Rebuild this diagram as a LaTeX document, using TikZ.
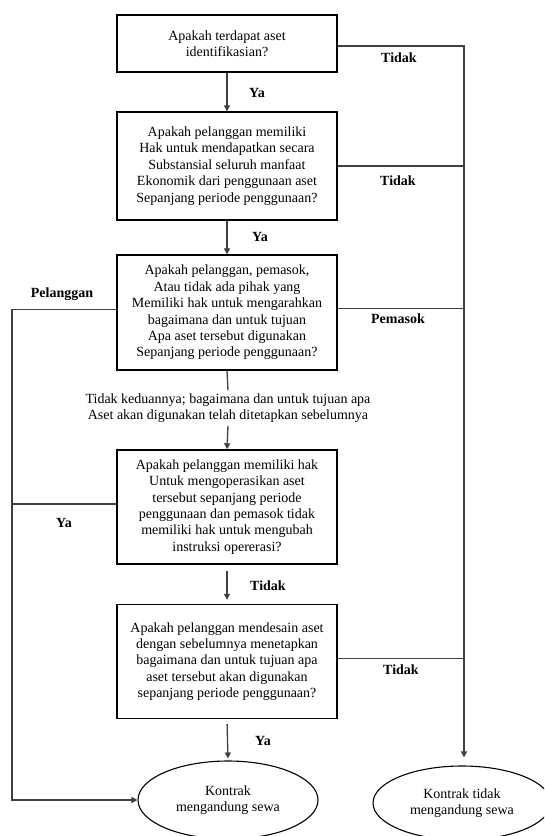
\documentclass[tikz,border=0pt]{standalone}
\usepackage{fontspec}
\setmainfont{Liberation Serif}
\usetikzlibrary{arrows.meta,shapes.geometric}
\begin{document}
\begin{tikzpicture}[x=1pt,y=-1pt,
  txt/.style={font=\fontsize{14}{16.4}\selectfont},
  qbox/.style={txt,draw=black,line width=1.4pt,rectangle,minimum width=220pt,align=center,inner sep=0pt},
  term/.style={txt,draw=black,line width=1.1pt,ellipse,align=center,inner sep=0pt},
  lbl/.style={font=\fontsize{14}{16.4}\selectfont\bfseries},
  conn/.style={draw=black!75,line width=1.3pt},
  arr/.style={conn,-{Triangle[length=6pt,width=6pt]}}]
\useasboundingbox (0,0) rectangle (544,836);
\clip (0,0) rectangle (544,836);

\node[qbox,minimum height=57pt] (b1) at (227,43.5) {Apakah terdapat aset\\identifikasian?};
\node[qbox,minimum height=108pt] (b2) at (227,166) {Apakah pelanggan memiliki\\Hak untuk mendapatkan secara\\Substansial seluruh manfaat\\Ekonomik dari penggunaan aset\\Sepanjang periode penggunaan?};
\node[qbox,minimum height=115pt] (b3) at (227,312.5) {Apakah pelanggan, pemasok,\\Atau tidak ada pihak yang\\Memiliki hak untuk mengarahkan\\bagaimana dan untuk tujuan\\Apa aset tersebut digunakan\\Sepanjang periode penggunaan?};
\node[txt,align=center,inner sep=3pt] (mid) at (228,408) {Tidak keduannya; bagaimana dan untuk tujuan apa\\Aset akan digunakan telah ditetapkan sebelumnya};
\node[qbox,minimum height=114pt] (b4) at (227,507) {Apakah pelanggan memiliki hak\\Untuk mengoperasikan aset\\tersebut sepanjang periode\\penggunaan dan pemasok tidak\\memiliki hak untuk mengubah\\instruksi opererasi?};
\node[qbox,minimum height=114pt] (b5) at (227,661.5) {Apakah pelanggan mendesain aset\\dengan sebelumnya menetapkan\\bagaimana dan untuk tujuan apa\\aset tersebut akan digunakan\\sepanjang periode penggunaan?};

\node[term,minimum width=180pt,minimum height=78pt] (e1) at (228,800) {Kontrak\\mengandung sewa};
\node[term,minimum width=178pt,minimum height=74pt] (e2) at (462,803) {Kontrak tidak\\mengandung sewa};

\coordinate (R) at (464,0);
\coordinate (L) at (12,0);

% main column
\draw[arr] (b1.south) -- (b2.north);
\draw[arr] (b2.south) -- (b3.north);
\draw[conn] (b3.south) -- (mid.north);
\draw[arr] (mid.south) -- (b4.north);
\draw[arr,shorten <=6pt,shorten >=4pt] (b4.south) -- (b5.north);
\draw[arr,shorten <=5pt,shorten >=2pt] (b5.south) -- (e1.north);

% right side
\draw[arr,shorten >=8pt] ([yshift=-2.5pt]b1.east) -- ([yshift=-2.5pt]b1.east -| R) -- (R |- e2.north);
\draw[conn] (b2.east) -- (b2.east -| R);
\draw[conn] ([yshift=4pt]b3.east) -- ([yshift=4pt]b3.east -| R);
\draw[conn] ([yshift=3pt]b5.east) -- ([yshift=3pt]b5.east -| R);

% left side
\draw[arr] ([yshift=3pt]b3.west) -- ([yshift=3pt]b3.west -| L) -- (L |- e1.west) -- (e1.west);
\draw[conn] ([yshift=3pt]b4.west) -- ([yshift=3pt]b4.west -| L);

% labels
\node[lbl] (y1) at (257,93) {Ya};
\node[lbl] (t1) at (399,58) {Tidak};
\node[lbl] (t2) at (398,181) {Tidak};
\node[lbl] (y2) at (260,237) {Ya};
\node[lbl] (pl) at (62,294) {Pelanggan};
\node[lbl] (pm) at (398,319) {Pemasok};
\node[lbl] (y3) at (64,523) {Ya};
\node[lbl] (t3) at (268,586) {Tidak};
\node[lbl] (t4) at (401,670) {Tidak};
\node[lbl] (y4) at (263,741) {Ya};
\end{tikzpicture}
\end{document}
